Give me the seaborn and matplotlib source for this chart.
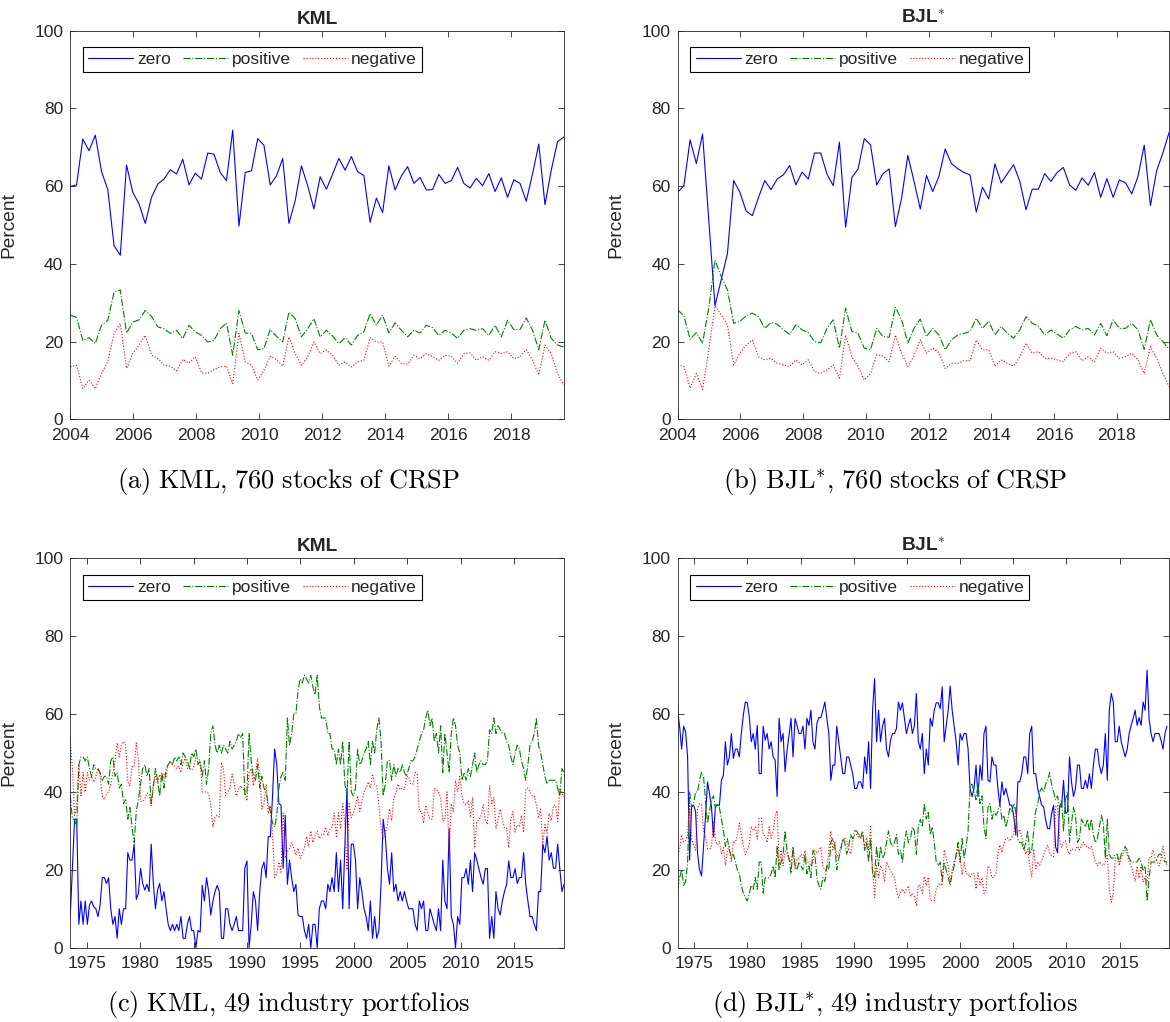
import numpy as np
import matplotlib
matplotlib.use("Agg")
import matplotlib.pyplot as plt
import seaborn as sns

# ---- (a) KML, 760 stocks of CRSP ----
zero_a = [59.9, 60.3, 72.1, 69.1, 73.1, 63.7, 59.1, 44.7, 42.2, 65.4,
          58.4, 55.4, 50.4, 57.1, 60.5, 61.8, 64.2, 63.1, 66.9, 60.3,
          63.3, 61.8, 68.5, 68.2, 63.5, 61.4, 74.4, 49.7, 63.5, 63.9,
          72.2, 70.5, 60.3, 62.6, 67.1, 50.4, 56.2, 65.2, 60.1, 54.1,
          62.4, 59.2, 63.1, 67.1, 64.1, 67.6, 63.7, 62.7, 50.7, 56.9,
          53.2, 65.2, 59.0, 62.6, 65.0, 60.7, 62.2, 59.0, 59.1, 63.0,
          60.7, 61.4, 64.8, 60.7, 59.5, 62.0, 60.1, 63.2, 58.6, 62.1,
          57.1, 61.6, 60.7, 56.1, 63.1, 70.8, 55.2, 64.1, 71.4, 72.6]
pos_a = [26.8, 26.2, 20.3, 21.0, 19.5, 24.2, 25.5, 32.7, 33.3, 22.2,
         25.0, 25.6, 28.0, 26.5, 23.8, 23.3, 22.1, 22.9, 20.8, 24.2,
         22.5, 21.6, 19.9, 20.3, 23.3, 24.8, 16.5, 28.0, 22.2, 22.1,
         17.9, 18.2, 23.1, 21.4, 19.9, 27.6, 25.9, 21.2, 23.3, 25.9,
         21.2, 22.9, 21.4, 19.5, 21.0, 19.1, 21.6, 22.5, 27.2, 24.2,
         26.8, 22.2, 24.8, 22.9, 21.2, 22.9, 22.2, 24.2, 23.6, 21.6,
         22.9, 22.2, 20.8, 22.9, 23.3, 22.9, 23.3, 21.6, 24.2, 21.2,
         25.5, 23.1, 23.1, 26.1, 22.9, 17.9, 25.5, 20.8, 19.1, 18.6]
neg_a = [13.5, 13.9, 7.9, 10.1, 7.9, 11.8, 14.8, 22.1, 24.6, 13.1,
         16.9, 19.1, 21.6, 16.5, 15.6, 13.9, 13.7, 12.5, 15.4, 14.5,
         16.1, 12.0, 11.8, 12.8, 13.5, 13.7, 9.2, 22.1, 14.8, 13.9,
         10.1, 12.6, 16.2, 15.4, 13.7, 21.2, 16.9, 13.9, 16.1, 19.9,
         16.9, 17.8, 16.5, 13.9, 14.8, 13.5, 14.8, 15.2, 21.0, 19.9,
         19.9, 13.7, 16.2, 14.4, 14.2, 16.5, 15.6, 16.9, 16.1, 15.2,
         16.5, 16.2, 14.4, 16.9, 17.1, 15.2, 16.1, 15.2, 17.4, 16.9,
         17.4, 15.6, 16.1, 17.9, 15.2, 11.4, 19.1, 16.9, 11.8, 8.8]

# ---- (b) BJL*, 760 stocks of CRSP ----
zero_b = [58.4, 60.1, 71.9, 65.8, 73.4, 51.3, 29.2, 35.9, 42.6, 61.4,
          58.4, 53.6, 52.4, 57.1, 61.4, 59.1, 61.8, 62.9, 65.3, 60.3,
          63.6, 61.8, 68.5, 68.5, 63.1, 60.1, 71.3, 49.4, 62.2, 64.4,
          72.2, 70.6, 60.3, 63.2, 64.4, 49.6, 56.9, 67.9, 61.2, 54.1,
          62.7, 58.6, 62.5, 69.5, 65.8, 64.5, 63.5, 62.9, 53.3, 59.7,
          56.7, 65.7, 60.8, 63.2, 65.5, 61.2, 53.9, 59.2, 59.2, 63.2,
          61.2, 63.5, 64.8, 60.3, 58.9, 62.1, 60.2, 63.5, 57.1, 61.9,
          57.1, 61.6, 60.8, 58.0, 62.5, 70.5, 55.0, 64.0, 68.5, 73.8]
pos_b = [28.2, 26.6, 20.6, 22.3, 19.6, 28.6, 41.0, 36.7, 33.3, 24.7,
         25.2, 26.6, 27.3, 26.4, 23.4, 24.9, 24.5, 23.0, 21.9, 24.3,
         23.0, 22.3, 20.0, 19.7, 23.4, 25.6, 18.3, 28.6, 22.6, 22.1,
         18.3, 17.9, 23.4, 21.3, 21.1, 28.8, 25.6, 19.6, 23.4, 25.8,
         21.3, 23.4, 21.7, 17.9, 20.4, 21.7, 22.1, 22.6, 26.0, 23.4,
         25.2, 21.7, 23.9, 22.1, 20.9, 23.0, 26.4, 24.7, 24.0, 21.7,
         23.0, 21.9, 20.9, 23.0, 23.9, 23.0, 23.4, 21.7, 24.7, 21.5,
         25.6, 23.4, 23.4, 24.7, 23.0, 18.0, 25.6, 21.7, 20.0, 18.0]
neg_b = [14.0, 13.6, 8.0, 11.8, 7.7, 17.9, 29.2, 26.9, 24.3, 14.0,
         17.0, 19.1, 20.4, 16.1, 15.3, 15.7, 14.4, 14.0, 13.6, 15.3,
         14.0, 15.3, 12.3, 11.8, 12.7, 14.0, 10.6, 21.7, 16.1, 13.6,
         10.1, 11.8, 16.6, 16.3, 14.8, 21.7, 17.0, 13.6, 16.3, 20.4,
         17.0, 18.3, 17.2, 13.1, 14.4, 14.4, 15.1, 15.1, 20.4, 17.9,
         17.9, 13.6, 15.3, 14.4, 13.7, 16.1, 19.6, 17.0, 17.4, 15.7,
         15.7, 15.3, 14.8, 17.0, 17.4, 15.1, 16.1, 14.8, 18.3, 17.0,
         17.4, 15.7, 16.1, 17.0, 15.3, 11.8, 18.7, 15.7, 11.8, 8.4]

# ---- (c) KML, 49 industry portfolios ----
zero_c = [8.4, 21, 33, 33, 6, 12, 6, 12, 6, 11,
          12, 10.5, 10, 8, 11, 18, 18, 16.5, 18, 10,
          6, 8, 2.4, 10, 6, 10, 10, 24.4, 22.5, 22.5,
          26.6, 12.4, 14, 20.4, 16.5, 14.8, 16.3, 14.4, 26.6, 16.5,
          10, 14.8, 16.5, 12, 14.4, 10, 6, 4.4, 6, 4.4,
          6, 4.4, 8, 2.4, 2.4, 6, 8, 4.4, 4.4, 0,
          4.4, 4, 16, 12, 18, 14.4, 8.4, 12, 14.4, 16,
          14.4, 2.4, 2.4, 10, 10, 6, 4.4, 6, 8, 4.4,
          4.4, 4.4, 20.4, 22.3, 0, 6, 14.4, 12, 4.4, 14.4,
          20.4, 22, 18, 28.5, 28.5, 38.8, 51, 47, 37, 36.6,
          20.4, 34, 16.3, 22.5, 18, 14.4, 16.3, 8.4, 8, 8,
          4.4, 2.4, 6, 0, 6, 6, 0, 10, 12, 12,
          10, 16.3, 14.4, 18, 14.4, 24.4, 14.4, 22.5, 10, 26,
          41, 10, 26.6, 26.6, 22.5, 10, 18, 14.4, 10, 8,
          4.4, 12, 2.4, 8, 2.4, 4.4, 16.3, 33, 28.6, 20.4,
          16.3, 24.4, 14.4, 16.3, 12, 14.4, 12, 14.4, 12, 10,
          10, 10, 6, 4.4, 12, 10, 12, 4.4, 4.4, 10,
          8, 6, 4.4, 10, 4.4, 22.5, 12, 10, 30.6, 8,
          6, 0, 8, 6, 18, 18, 20.3, 16.3, 22.5, 14.4,
          24.4, 22.5, 20.3, 18, 16.3, 20.3, 20.3, 2.4, 8, 2.4,
          14.4, 10, 8.4, 12, 14.4, 16.3, 22.3, 18, 18, 20.3,
          16.5, 18, 18, 24.4, 16.3, 12, 8, 8, 6, 4.4,
          14.4, 14.4, 26.6, 24.4, 28.6, 22.5, 24.4, 20.4, 20.4, 26.6,
          20.3, 14.4, 16.3]
pos_c = [39, 33, 33, 31, 47, 49, 49, 48, 49, 46,
         44, 47, 46, 46, 45, 43, 44, 44, 42, 48,
         49, 44, 45, 41, 42, 37, 38, 33, 36, 31,
         27, 35, 38, 42, 46, 47, 44, 46, 37, 41,
         46, 43, 39, 45, 41, 46, 47, 48, 47, 49,
         48, 49, 47, 50, 49, 48, 46, 50, 49, 51,
         47, 48, 44, 48, 42, 46, 55, 57, 52, 50,
         52, 50, 52, 51, 50, 53, 51, 52, 53, 55,
         54, 55, 39, 40, 55, 48, 44, 43, 47, 41,
         44, 41, 40, 37, 35, 32, 31, 34, 41, 44,
         45, 43, 59, 52, 55, 60, 60, 66, 69, 68,
         70, 69, 68, 70, 67, 65, 70, 62, 59, 59,
         59, 55, 55, 51, 51, 47, 51, 47, 53, 42,
         39, 53, 40, 39, 41, 51, 47, 48, 50, 51,
         53, 47, 53, 50, 56, 59, 53, 39, 42, 48,
         48, 43, 47, 44, 46, 45, 47, 45, 44, 46,
         48, 48, 49, 51, 53, 55, 56, 59, 61, 57,
         59, 53, 55, 50, 57, 45, 55, 50, 45, 55,
         59, 57, 52, 50, 43, 45, 43, 46, 44, 47,
         50, 45, 47, 48, 47, 47, 48, 56, 55, 59,
         55, 57, 56, 55, 55, 53, 52, 49, 47, 50,
         52, 51, 48, 46, 43, 47, 52, 53, 55, 59,
         52, 50, 47, 44, 42, 43, 43, 43, 43, 41,
         39, 46, 45]
neg_c = [53, 46, 34, 36, 47, 39, 45, 40, 45, 43,
         44, 42.5, 44, 46, 44, 39, 38, 39.5, 40, 42,
         45, 48, 52.6, 49, 52, 53, 52, 42.6, 41.5, 46.5,
         46.4, 52.6, 48, 37.6, 37.5, 38.2, 39.7, 39.6, 36.4, 42.5,
         44, 42.2, 44.5, 43, 44.6, 44, 47, 47.6, 47, 46.6,
         46, 46.6, 45, 47.6, 48.6, 46, 46, 45.6, 46.6, 49,
         48.6, 48, 40, 40, 40, 39.6, 36.6, 31, 33.6, 34,
         33.6, 47.6, 45.6, 39, 40, 41, 44.6, 42, 39, 40.6,
         41.6, 40.6, 40.6, 37.7, 45, 46, 41.6, 45, 48.6, 44.6,
         35.6, 37, 42, 34.5, 36.5, 29.2, 18, 19, 22, 19.4,
         34.6, 23, 24.7, 25.5, 27, 25.6, 23.7, 25.6, 23, 24,
         25.6, 28.6, 26, 30, 27, 29, 30, 28, 29, 29,
         31, 28.7, 30.6, 31, 34.6, 28.6, 34.6, 30.5, 37, 32,
         20, 37, 33.4, 34.4, 36.5, 39, 35, 37.6, 40, 41,
         42.6, 41, 44.6, 42, 41.6, 36.6, 30.7, 28, 29.4, 31.6,
         35.7, 32.6, 38.6, 39.7, 42, 40.6, 41, 40.6, 44, 44,
         42, 42, 45, 44.6, 35, 35, 32, 36.6, 34.6, 33,
         33, 41, 40.6, 40, 38.6, 32.5, 33, 40, 24.4, 37,
         35, 43, 40, 44, 39, 37, 36.7, 37.7, 33.5, 38.6,
         25.6, 32.5, 32.7, 34, 36.7, 32.7, 31.7, 41.6, 37, 38.6,
         30.6, 33, 35.6, 33, 30.6, 30.7, 25.7, 33, 35, 29.7,
         31.5, 31, 34, 29.6, 40.7, 41, 40, 39, 39, 36.6,
         33.6, 35.6, 26.4, 31.6, 29.4, 34.5, 32.6, 36.6, 36.6, 32.4,
         40.7, 39.6, 38.7]

# ---- (d) BJL*, 49 industry portfolios ----
zero_d = [61, 56.7, 51, 56.9, 55.4, 49, 22.5, 36.2, 36.6, 35,
          24.2, 20, 18.4, 26, 33.6, 42.6, 39.6, 36.2, 28.5, 36.6,
          36.6, 36.6, 43, 44.3, 52.9, 46.9, 49, 55, 48.6, 51,
          51, 49, 55, 59.7, 63.1, 62.9, 59.3, 52.9, 55, 51,
          57.1, 44.7, 44.7, 56.9, 53.3, 55, 51, 52.9, 49, 48.2,
          38.8, 58.9, 52.9, 55, 45.2, 50.7, 54.6, 58.9, 49, 58.9,
          57.1, 55, 55, 56.9, 51, 58.9, 57.1, 61, 52.9, 51,
          57.6, 59.1, 59.1, 61, 63.1, 58.9, 55, 43, 46.9, 46.9,
          56.9, 52.9, 49, 44.7, 44.7, 49, 49, 46.9, 44.7, 40.9,
          40.9, 42.6, 42.6, 40.9, 49, 44.7, 52.9, 40.9, 61, 69.1,
          52.9, 61, 52.9, 56.9, 58.9, 51, 49, 53.3, 55, 55,
          56.3, 63.1, 61, 62.9, 58.9, 55, 57.1, 58.9, 55, 56.9,
          65.3, 52.9, 51, 55, 44.7, 51, 46.9, 58.9, 56.9, 61,
          62.9, 62.9, 61.4, 67, 52.9, 56.9, 61, 67.2, 61, 56.9,
          52.9, 46.9, 55, 53.3, 55, 55, 51, 40.9, 38.8, 40.9,
          46.9, 38.8, 46.9, 43, 55, 56.9, 43, 42.6, 49, 46.9,
          46.9, 40.9, 36.6, 42.6, 39.2, 40.9, 38.8, 36.6, 36.6, 33.6,
          28.9, 42.6, 42.6, 44.7, 49, 49, 44.7, 55, 56.9, 44.7,
          44.7, 40.9, 38.8, 36.6, 36.2, 32.8, 30.6, 30.6, 34.5, 36.6,
          25.9, 24.4, 36.2, 36.2, 43, 34.5, 34.9, 49, 42.6, 38.8,
          40.9, 46.9, 46.9, 40.9, 40.9, 43, 40.9, 44.7, 40.9, 46.9,
          51, 51, 46.9, 44.7, 46.9, 55, 43, 61, 65.3, 63.1,
          52.9, 52.9, 56.9, 52.9, 51, 49, 51, 55, 57.1, 58.9,
          61, 57.1, 59.1, 57.1, 63.1, 61, 71.3, 58.9, 55, 52.9,
          55, 55, 55, 53.3, 51, 55, 56.9]
pos_d = [15, 18, 20, 16, 17, 22, 40, 36, 37, 40,
         40, 43, 45, 44, 38, 32, 35, 38, 39, 36,
         37, 36, 33, 30, 26, 28, 25, 23, 24, 22,
         20, 19, 16, 14, 13, 12, 14, 16, 15, 18,
         15, 22, 22, 14, 18, 18, 18, 19, 21, 18,
         26, 20, 22, 24, 30, 25, 23, 19, 26, 21,
         20, 22, 21, 20, 24, 19, 21, 18, 25, 24,
         18, 16, 15, 18, 17, 21, 20, 27, 28, 26,
         20, 23, 25, 28, 27, 24, 26, 29, 28, 30,
         30, 29, 28, 30, 25, 27, 22, 28, 19, 18,
         26, 21, 26, 23, 24, 27, 30, 27, 26, 27,
         29, 24, 25, 22, 27, 30, 27, 28, 31, 30,
         24, 31, 33, 31, 37, 33, 35, 29, 31, 27,
         22, 21, 22, 17, 22, 20, 18, 16, 19, 21,
         24, 27, 22, 28, 23, 26, 30, 41, 42, 40,
         38, 42, 37, 39, 31, 28, 36, 37, 33, 35,
         34, 35, 37, 33, 34, 31, 33, 36, 35, 37,
         35, 28, 27, 27, 25, 27, 30, 24, 25, 30,
         35, 37, 40, 41, 40, 42, 43, 45, 42, 40,
         38, 39, 36, 38, 30, 38, 40, 27, 32, 36,
         34, 27, 28, 33, 32, 31, 33, 30, 33, 29,
         27, 28, 31, 34, 32, 23, 33, 24, 23, 23,
         24, 24, 22, 24, 25, 26, 25, 23, 22, 22,
         22, 22, 23, 22, 20, 21, 12, 18, 22, 22,
         22, 23, 24, 24, 23, 22, 22]
neg_d = [24, 25.3, 29, 27.1, 27.6, 29, 37.5, 27.8, 26.4, 25,
         35.8, 37, 36.6, 30, 28.4, 25.4, 25.4, 25.8, 32.5, 27.4,
         26.4, 27.4, 24, 25.7, 21.1, 25.1, 26, 22, 27.4, 27,
         29, 32, 29, 26.3, 23.9, 25.1, 26.7, 31.1, 30, 31,
         27.9, 33.3, 33.3, 29.1, 28.7, 27, 31, 28.1, 30, 33.8,
         35.2, 21.1, 25.1, 21, 24.8, 24.3, 22.4, 22.1, 25, 20.1,
         22.9, 23, 24, 23.1, 25, 22.1, 21.9, 21, 22.1, 25,
         24.4, 24.9, 25.9, 21, 19.9, 20.1, 25, 30, 25.1, 27.1,
         23.1, 24.1, 26, 27.3, 28.3, 27, 25, 24.1, 27.3, 29.1,
         29.1, 28.4, 29.4, 29.1, 26, 28.3, 25.1, 31.1, 20, 12.9,
         21.1, 18, 21.1, 20.1, 17.1, 22, 21, 19.7, 19, 18,
         14.7, 12.9, 14, 15.1, 14.1, 15, 15.9, 13.1, 14, 13.1,
         10.7, 16.1, 16, 14, 18.3, 16, 18.1, 12.1, 12.1, 12,
         15.1, 16.1, 16.6, 16, 25.1, 23.1, 21, 16.8, 20, 22.1,
         23.1, 26.1, 23, 18.7, 22, 19, 19, 18.1, 19.2, 19.1,
         15.1, 19.2, 16.1, 18, 14, 15.1, 21, 20.4, 18, 18.1,
         19.1, 24.1, 26.4, 24.4, 26.8, 28.1, 28.2, 27.4, 28.4, 29.4,
         36.1, 29.4, 30.4, 28.3, 26, 24, 25.3, 21, 18.1, 25.3,
         20.3, 22.1, 21.2, 22.4, 23.8, 25.2, 26.4, 24.4, 23.5, 23.4,
         36.1, 36.6, 27.8, 25.8, 27, 27.5, 25.1, 24, 25.4, 25.2,
         25.1, 26.1, 25.1, 26.1, 27.1, 26, 26.1, 25.3, 26.1, 24.1,
         22, 21, 22.1, 21.3, 21.1, 22, 24, 15, 11.7, 13.9,
         23.1, 23.1, 21.1, 23.1, 24, 25, 24, 22, 20.9, 19.1,
         17, 20.9, 17.9, 20.9, 16.9, 18, 16.7, 23.1, 23, 25.1,
         23, 22, 21, 22.7, 26, 23, 21.1]

titles = ["KML", r"BJL$^{*}$", "KML", r"BJL$^{*}$"]
captions = [r"$\mathrm{(a)\ KML{,}\ 760\ stocks\ of\ CRSP}$",
            r"$\mathrm{(b)\ BJL^{\ast}{,}\ 760\ stocks\ of\ CRSP}$",
            r"$\mathrm{(c)\ KML{,}\ 49\ industry\ portfolios}$",
            r"$\mathrm{(d)\ BJL^{\ast}{,}\ 49\ industry\ portfolios}$"]

sns.set_style("ticks")
plt.rcParams["font.family"] = ["Liberation Sans", "DejaVu Sans"]
plt.rcParams["mathtext.fontset"] = "cm"

INK = "#262626"


def draw_panel(ax, x, zero, pos, neg, title, xticks, xlim):
    sns.lineplot(x=x, y=zero, ax=ax, color="#0000ff", lw=0.8, label="zero")
    sns.lineplot(x=x, y=pos, ax=ax, color="#008000", lw=0.8, linestyle="-.", label="positive")
    sns.lineplot(x=x, y=neg, ax=ax, color="#ff0000", lw=0.8, linestyle=":", label="negative")
    ax.set_xlim(*xlim)
    ax.set_ylim(0, 100)
    ax.set_xticks(xticks)
    ax.set_yticks(range(0, 101, 20))
    ax.tick_params(direction="in", top=True, right=True, length=4, width=0.6,
                   labelsize=12.5, color=INK, labelcolor=INK)
    ax.tick_params(axis="x", pad=6)
    ax.tick_params(axis="y", pad=5)
    for s in ax.spines.values():
        s.set_linewidth(0.6)
        s.set_color(INK)
    ax.set_xlabel("")
    ax.set_ylabel("Percent", fontsize=13.75, color=INK)
    ax.yaxis.set_label_coords(-0.108, 0.5)
    ax.set_title(title, fontsize=13.75, fontweight="bold", pad=5)
    leg = ax.legend(loc="upper left", bbox_to_anchor=(0.0257, 0.958), ncol=3,
                    fontsize=12.5, frameon=True, fancybox=False, framealpha=1,
                    edgecolor="black", handlelength=2.6, handletextpad=0.2,
                    columnspacing=0.7, borderpad=0.3, borderaxespad=0)
    leg.get_frame().set_linewidth(0.8)


fig = plt.figure(figsize=(11.7, 10.22), dpi=100)
ax_a = fig.add_axes([0.0601, 0.5897, 0.422, 0.3804])
ax_b = fig.add_axes([0.5792, 0.5897, 0.4203, 0.3804])
ax_c = fig.add_axes([0.0601, 0.0727, 0.422, 0.381])
ax_d = fig.add_axes([0.5792, 0.0727, 0.4203, 0.381])

top_ticks = list(range(2004, 2019, 2))
bot_ticks = list(range(1975, 2016, 5))

draw_panel(ax_a, np.linspace(2004, 2019.67, len(zero_a)), zero_a, pos_a, neg_a,
           titles[0], top_ticks, (2004, 2019.68))
draw_panel(ax_b, np.linspace(2004, 2019.67, len(zero_b)), zero_b, pos_b, neg_b,
           titles[1], top_ticks, (2004, 2019.68))
draw_panel(ax_c, np.linspace(1973.45, 2019.68, len(zero_c)), zero_c, pos_c, neg_c,
           titles[2], bot_ticks, (1973.45, 2019.68))
draw_panel(ax_d, np.linspace(1973.45, 2019.45, len(zero_d)), zero_d, pos_d, neg_d,
           titles[3], bot_ticks, (1973.45, 2019.68))

for (cx, cy), cap in zip([(0.2462, 0.5225), (0.765, 0.5225),
                          (0.2462, 0.0108), (0.765, 0.0108)], captions):
    fig.text(cx, cy, cap, ha="center", va="baseline", fontsize=19, color="black")

fig.savefig("out.png", dpi=100)
